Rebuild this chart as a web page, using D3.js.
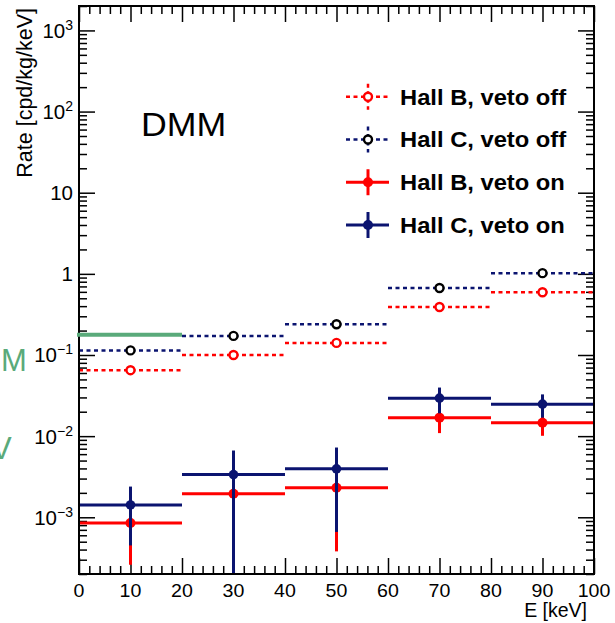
<!DOCTYPE html>
<html>
<head>
<meta charset="utf-8">
<script src="https://cdn.jsdelivr.net/npm/d3@7"></script>
<style>
  html, body { margin: 0; padding: 0; background: #fff; }
  svg { display: block; font-family: "Liberation Sans", Arial, Helvetica, sans-serif; }
</style>
</head>
<body>
<svg id="chart" width="615" height="623"></svg>
<script>
// Energy bins [keV]
const binEdges = [0, 20, 40, 60, 80, 100];
const binCenters = [10, 30, 50, 70, 90];

// Rates [cpd/kg/keV]
const hallBVetoOff = [0.065, 0.100, 0.141, 0.39, 0.594];
const hallCVetoOff = [0.114, 0.172, 0.239, 0.67, 1.02];
const hallBVetoOn = [0.00085, 0.00195, 0.00231, 0.0169, 0.0146];
const hallBVetoOnErr = [0.00059, 0.0019, 0.00193, 0.006, 0.0045];
const hallCVetoOn = [0.00142, 0.00336, 0.00395, 0.0294, 0.0248];
const hallCVetoOnErr = [0.00097, 0.00329, 0.00329, 0.0103, 0.0079];

// Axis ticks and labels
const xTickLabels = [0, 10, 20, 30, 40, 50, 60, 70, 80, 90, 100];
const yDecades = [-3, -2, -1, 0, 1, 2, 3];

const legendLabels = ["Hall B, veto off", "Hall C, veto off", "Hall B, veto on", "Hall C, veto on"];

const RED = "#ff0000";
const NAVY = "#0b1470";
const GREEN = "#5aaa7a";

const svg = d3.select("#chart");
const W = 615, H = 623;
const plot = { left: 79, right: 594, top: 6, bottom: 574 };

const x = d3.scaleLinear().domain([0, 100]).range([plot.left, plot.right]);
const y = d3.scaleLog().domain([2e-4, 2e3]).range([plot.bottom, plot.top]);

svg.append("rect").attr("width", W).attr("height", H).attr("fill", "#fff");

// clip region for the data
svg.append("defs").append("clipPath").attr("id", "plotclip")
  .append("rect")
  .attr("x", plot.left).attr("y", plot.top)
  .attr("width", plot.right - plot.left).attr("height", plot.bottom - plot.top);

// ---- ticks ----
const majorX = d3.range(0, 101, 10);
const minorX = d3.range(0, 101, 2).filter(v => v % 10 !== 0);
const majorY = yDecades.map(e => Math.pow(10, e));
const minorY = [];
for (let e = -4; e <= 3; e++) {
  for (let m = 2; m <= 9; m++) {
    const v = m * Math.pow(10, e);
    if (v >= 2e-4 && v <= 2e3) minorY.push(v);
  }
}

function tickAxis(axis, transform) {
  const g = svg.append("g").attr("transform", transform).call(axis);
  g.select(".domain").remove();
  g.selectAll(".tick line").attr("stroke", "#000").attr("stroke-width", 1.5);
  g.selectAll(".tick text").remove();
  return g;
}
const MAJ = 16, MIN = 8;
tickAxis(d3.axisBottom(x).tickValues(majorX).tickSizeInner(-MAJ).tickFormat(""), `translate(0,${plot.bottom})`);
tickAxis(d3.axisBottom(x).tickValues(minorX).tickSizeInner(-MIN).tickFormat(""), `translate(0,${plot.bottom})`);
tickAxis(d3.axisTop(x).tickValues(majorX).tickSizeInner(-MAJ).tickFormat(""), `translate(0,${plot.top})`);
tickAxis(d3.axisTop(x).tickValues(minorX).tickSizeInner(-MIN).tickFormat(""), `translate(0,${plot.top})`);
tickAxis(d3.axisLeft(y).tickValues(majorY).tickSizeInner(-MAJ).tickFormat(""), `translate(${plot.left},0)`);
tickAxis(d3.axisLeft(y).tickValues(minorY).tickSizeInner(-MIN).tickFormat(""), `translate(${plot.left},0)`);
tickAxis(d3.axisRight(y).tickValues(majorY).tickSizeInner(-MAJ).tickFormat(""), `translate(${plot.right},0)`);
tickAxis(d3.axisRight(y).tickValues(minorY).tickSizeInner(-MIN).tickFormat(""), `translate(${plot.right},0)`);

// ---- data ----
const data = svg.append("g").attr("clip-path", "url(#plotclip)");

function stepSeries(values, color, dashed) {
  data.append("g").selectAll("line")
    .data(values)
    .join("line")
    .attr("x1", (d, i) => x(binEdges[i]))
    .attr("x2", (d, i) => x(binEdges[i + 1]))
    .attr("y1", d => y(d))
    .attr("y2", d => y(d))
    .attr("stroke", color)
    .attr("stroke-width", dashed ? 2.5 : 3)
    .attr("stroke-dasharray", dashed ? "4,3.5" : null);
}

function errorBars(values, errs, color) {
  data.append("g").selectAll("line")
    .data(values)
    .join("line")
    .attr("x1", (d, i) => x(binCenters[i]))
    .attr("x2", (d, i) => x(binCenters[i]))
    .attr("y1", (d, i) => y(Math.max(d - errs[i], 1e-5)))
    .attr("y2", (d, i) => y(d + errs[i]))
    .attr("stroke", color)
    .attr("stroke-width", 3);
}

function markers(values, stroke, fill, r) {
  data.append("g").selectAll("circle")
    .data(values)
    .join("circle")
    .attr("cx", (d, i) => x(binCenters[i]))
    .attr("cy", d => y(d))
    .attr("r", r)
    .attr("fill", fill)
    .attr("stroke", stroke)
    .attr("stroke-width", fill === "#fff" ? 2.4 : 0);
}

// veto off
stepSeries(hallBVetoOff, RED, true);
markers(hallBVetoOff, RED, "#fff", 4);
stepSeries(hallCVetoOff, NAVY, true);
markers(hallCVetoOff, "#000", "#fff", 4);

// veto on
stepSeries(hallBVetoOn, RED, false);
errorBars(hallBVetoOn, hallBVetoOnErr, RED);
markers(hallBVetoOn, RED, RED, 5);
stepSeries(hallCVetoOn, NAVY, false);
errorBars(hallCVetoOn, hallCVetoOnErr, NAVY);
markers(hallCVetoOn, NAVY, NAVY, 4.8);

// frame
svg.append("rect")
  .attr("x", plot.left).attr("y", plot.top)
  .attr("width", plot.right - plot.left).attr("height", plot.bottom - plot.top)
  .attr("fill", "none").attr("stroke", "#000").attr("stroke-width", 2);

// ---- tick labels ----
svg.append("g").selectAll("text")
  .data(xTickLabels)
  .join("text")
  .attr("transform", d => `translate(${x(d)},597) scale(1.12,1)`)
  .attr("text-anchor", "middle")
  .attr("font-size", 17.5)
  .attr("fill", "#000")
  .text(d => d);

const yl = svg.append("g").selectAll("text")
  .data(yDecades)
  .join("text")
  .attr("x", 73)
  .attr("y", e => y(Math.pow(10, e)) + 7.5)
  .attr("text-anchor", "end")
  .attr("font-size", 20.5)
  .attr("fill", "#000");
yl.each(function (e) {
  const t = d3.select(this);
  if (e === 0) { t.text("1"); return; }
  if (e === 1) { t.text("10"); return; }
  t.append("tspan").text("10");
  t.append("tspan").attr("dy", -8).attr("font-size", 14)
    .text(e < 0 ? "\u2212" + (-e) : String(e));
});

// ---- axis titles ----
svg.append("text")
  .attr("transform", "translate(32,8) rotate(-90)")
  .attr("text-anchor", "end")
  .attr("font-size", 21.5)
  .attr("fill", "#000")
  .text("Rate [cpd/kg/keV]");

svg.append("text")
  .attr("transform", "translate(587,617)")
  .attr("text-anchor", "end")
  .attr("font-size", 19.5)
  .attr("fill", "#000")
  .text("E [keV]");

svg.append("text")
  .attr("transform", "translate(141,136) scale(1.05,1)")
  .attr("font-size", 34)
  .attr("fill", "#000")
  .text("DMM");

// ---- legend ----
const legendRows = [
  { label: legendLabels[0], color: RED, markStroke: RED, fill: "#fff", dashed: true },
  { label: legendLabels[1], color: NAVY, markStroke: "#000", fill: "#fff", dashed: true },
  { label: legendLabels[2], color: RED, markStroke: RED, fill: RED, dashed: false },
  { label: legendLabels[3], color: NAVY, markStroke: NAVY, fill: NAVY, dashed: false }
];
const legendY = d3.scaleLinear().domain([0, 3]).range([96.7, 225]);
const lg = svg.append("g").selectAll("g")
  .data(legendRows)
  .join("g")
  .attr("transform", (d, i) => `translate(0,${legendY(i)})`);
lg.append("line")
  .attr("x1", 346).attr("x2", 389).attr("y1", 0).attr("y2", 0)
  .attr("stroke", d => d.color)
  .attr("stroke-width", d => d.dashed ? 2.5 : 3)
  .attr("stroke-dasharray", d => d.dashed ? "4,3.5" : null);
lg.append("line")
  .attr("x1", 368).attr("x2", 368).attr("y1", -13).attr("y2", 13)
  .attr("stroke", d => d.color)
  .attr("stroke-width", d => d.dashed ? 2.5 : 3)
  .attr("stroke-dasharray", d => d.dashed ? "4,3.5" : null);
lg.append("circle")
  .attr("cx", 368).attr("cy", 0)
  .attr("r", d => d.dashed ? 4 : 5)
  .attr("fill", d => d.fill)
  .attr("stroke", d => d.markStroke)
  .attr("stroke-width", d => d.dashed ? 2.4 : 0);
lg.append("text")
  .attr("transform", "translate(400,8) scale(1.08,1)")
  .attr("font-size", 22)
  .attr("font-weight", "bold")
  .attr("fill", "#000")
  .text(d => d.label);

// ---- annotation marks at the left edge ----
svg.append("line")
  .attr("x1", 77).attr("x2", x(20))
  .attr("y1", 334.7).attr("y2", 334.7)
  .attr("stroke", GREEN).attr("stroke-width", 4);
svg.append("text")
  .attr("x", 1).attr("y", 371)
  .attr("font-size", 31)
  .attr("fill", GREEN)
  .text("M");
svg.append("text")
  .attr("x", -9).attr("y", 459)
  .attr("font-size", 31)
  .attr("fill", GREEN)
  .text("V");
</script>
</body>
</html>
